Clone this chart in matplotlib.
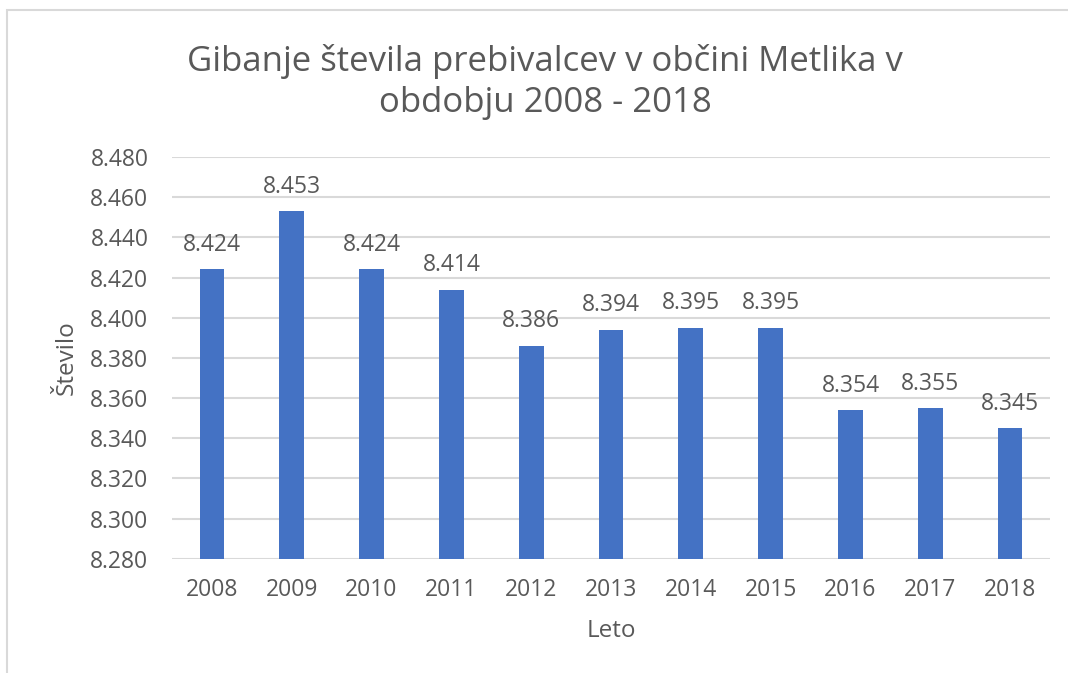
import matplotlib.pyplot as plt
from matplotlib.patches import Rectangle

years = ['2008', '2009', '2010', '2011', '2012', '2013', '2014', '2015', '2016', '2017', '2018']
population = [8424, 8453, 8424, 8414, 8386, 8394, 8395, 8395, 8354, 8355, 8345]
yticks = [8280, 8300, 8320, 8340, 8360, 8380, 8400, 8420, 8440, 8460, 8480]

text_col = '#595959'
plt.rcParams['font.family'] = ['Open Sans', 'DejaVu Sans']


def fmt(v):
    # slovene thousands separator
    return f'{v:,}'.replace(',', '.')


fig = plt.figure(figsize=(10.68, 6.73), dpi=100)
ax = fig.add_axes([172 / 1068, 1 - 558.7 / 673, 878 / 1068, 401.7 / 673])

# chart frame
fig.patches.append(Rectangle((7 / 1068, -0.1), 1.2, 1 - 10 / 673 + 0.1, transform=fig.transFigure,
                             fill=False, edgecolor='#D9D9D9', linewidth=1.5))

x = range(len(years))
bars = ax.bar(x, population, width=0.31, color='#4472C4', zorder=3)
for xi, v in zip(x, population):
    ax.annotate(fmt(v), (xi, v), xytext=(0, 9), textcoords='offset points',
                ha='center', va='bottom', fontsize=16.5, color=text_col)

ax.set_xlim(-0.5, len(years) - 0.5)
ax.set_ylim(8280, 8480)
ax.set_yticks(yticks)
ax.set_yticklabels([fmt(t) for t in yticks])
ax.set_xticks(list(x))
ax.set_xticklabels(years)
ax.tick_params(axis='both', length=0, labelsize=16.5, labelcolor=text_col)
ax.tick_params(axis='y', pad=17)
ax.tick_params(axis='x', pad=14)
ax.grid(axis='y', color='#D9D9D9', linewidth=1.5, zorder=0)
for s in ax.spines.values():
    s.set_visible(False)

ax.set_xlabel('Leto', fontsize=17.5, color=text_col, labelpad=12)
ax.set_ylabel('Število', fontsize=17.5, color=text_col, labelpad=8)

fig.text(545 / 1068, 1 - 82 / 673, 'Gibanje števila prebivalcev v občini Metlika v\nobdobju 2008 - 2018',
         ha='center', va='center', fontsize=25, color=text_col, linespacing=1.3)

fig.savefig('out.png', dpi=100)
